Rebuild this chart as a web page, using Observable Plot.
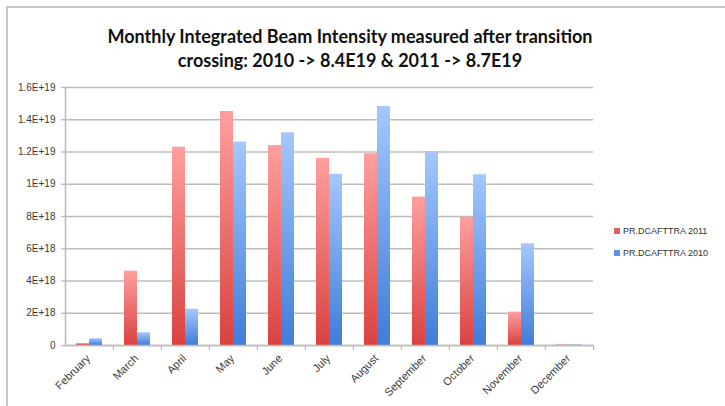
<!DOCTYPE html>
<html><head><meta charset="utf-8">
<script src="https://cdn.jsdelivr.net/npm/d3@7"></script>
<script src="https://cdn.jsdelivr.net/npm/@observablehq/plot@0.6"></script>
<style>
body{margin:0;background:#fff;}
#wrap{position:relative;width:725px;height:406px;overflow:hidden;font-family:"Liberation Sans",Arial,sans-serif;}
#wrap svg{position:absolute;left:0;top:0;}
#border{position:absolute;left:6px;top:6px;width:900px;height:600px;border-left:2px solid #c6c6c6;border-top:2px solid #c6c6c6;}
#title{position:absolute;left:0;top:24px;width:700px;text-align:center;font-family:Lato,"Open Sans",sans-serif;font-weight:bold;font-size:18px;line-height:24px;color:#111;}
.leg{position:absolute;left:614px;font-size:9px;color:#333;white-space:nowrap;line-height:12px;}
.leg span{display:inline-block;width:6px;height:6px;margin-right:3px;vertical-align:0px;}
</style></head>
<body><div id="wrap"><div id="border"></div></div>
<script>
const months = ["February","March","April","May","June","July","August","September","October","November","December"];
const seriesNames = ["PR.DCAFTTRA 2011","PR.DCAFTTRA 2010"];
const pr2011 = [0.12e18, 4.61e18, 12.3e18, 14.51e18, 12.4e18, 11.6e18, 11.89e18, 9.2e18, 7.96e18, 2.07e18, 0.04e18];
const pr2010 = [0.42e18, 0.79e18, 2.25e18, 12.61e18, 13.19e18, 10.62e18, 14.82e18, 12.03e18, 10.59e18, 6.31e18, 0.04e18];
const yTicks = [0, 2e18, 4e18, 6e18, 8e18, 1e19, 1.2e19, 1.4e19, 1.6e19];

const rows2011 = months.map((m, i) => ({month: m, series: seriesNames[0], value: pr2011[i]}));
const rows2010 = months.map((m, i) => ({month: m, series: seriesNames[1], value: pr2010[i]}));

const W = 725, H = 406, mT = 87, mB = 61, mL = 63, mR = 131;
const gridColor = "#bcbcbc";
const fmt = d => d === 0 ? "0" : d.toExponential().replace("e", "E");

const chart = Plot.plot({
  width: W, height: H,
  marginTop: mT, marginBottom: mB, marginLeft: mL, marginRight: mR,
  style: {fontFamily: '"Liberation Sans", Arial, sans-serif', fontSize: "10px", color: "#3a3a3a", background: "transparent"},
  fx: {domain: months, padding: 0, label: null},
  x: {domain: seriesNames, paddingInner: 0, paddingOuter: 0.79, axis: null},
  y: {domain: [0, 1.6e19], label: null},
  marks: [
    Plot.gridY(yTicks, {stroke: gridColor, strokeOpacity: 1, strokeWidth: 1.6}),
    Plot.barY(rows2011, {fx: "month", x: "series", y: "value", fill: "url(#gRed)"}),
    Plot.barY(rows2010, {fx: "month", x: "series", y: "value", fill: "url(#gBlue)"}),
    Plot.ruleY([0], {stroke: gridColor, strokeWidth: 1.6}),
    Plot.frame({anchor: "right", stroke: gridColor, strokeWidth: 1.3, insetTop: H - mT - mB, insetBottom: -4}),
    Plot.frame({anchor: "left", facetAnchor: "left", stroke: gridColor, strokeWidth: 1.6}),
    Plot.axisY(yTicks, {tickFormat: fmt, tickSize: 4, tickPadding: 6, stroke: gridColor, strokeWidth: 1.3, label: null}),
    Plot.axisFx({anchor: "bottom", tickRotate: -45, tickSize: 0, tickPadding: 11, dx: -1, fontSize: 11, label: null})
  ]
});

const ns = "http://www.w3.org/2000/svg";
const defs = document.createElementNS(ns, "defs");
defs.innerHTML = `
<linearGradient id="gRed" x1="0" y1="0" x2="0" y2="1">
  <stop offset="0" stop-color="#ff9f9f"/><stop offset="1" stop-color="#d9423f"/>
</linearGradient>
<linearGradient id="gBlue" x1="0" y1="0" x2="0" y2="1">
  <stop offset="0" stop-color="#a4c7ff"/><stop offset="1" stop-color="#3f7dd8"/>
</linearGradient>`;
chart.prepend(defs);

const wrap = document.getElementById("wrap");
wrap.appendChild(chart);

const title = document.createElement("div");
title.id = "title";
title.innerHTML = "Monthly Integrated Beam Intensity measured after transition<br>crossing: 2010 -&gt; 8.4E19 &amp; 2011 -&gt; 8.7E19";
wrap.appendChild(title);

const legColors = ["#e0605e", "#5a93e6"];
const legTops = [225, 247];
seriesNames.forEach((s, i) => {
  const d = document.createElement("div");
  d.className = "leg";
  d.style.top = legTops[i] + "px";
  d.innerHTML = `<span style="background:${legColors[i]}"></span>${s}`;
  wrap.appendChild(d);
});
</script>
</body></html>
